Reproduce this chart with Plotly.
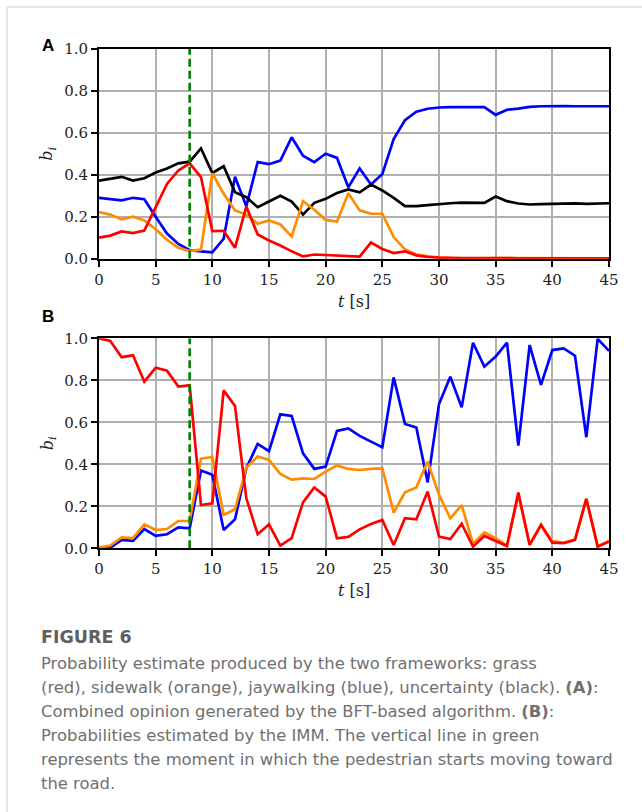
import plotly.graph_objects as go

W, H = 642, 812

t = list(range(46))

# Panel A: combined opinion (BFT)
a_blue = [0.29, 0.283, 0.278, 0.29, 0.283, 0.20, 0.12, 0.07, 0.04, 0.035, 0.03, 0.095, 0.39, 0.25, 0.46, 0.45,
          0.467, 0.578, 0.49, 0.46, 0.50, 0.48, 0.34, 0.43, 0.353, 0.403, 0.57, 0.66, 0.70, 0.714, 0.72, 0.722,
          0.723, 0.723, 0.722, 0.685, 0.709, 0.715, 0.723, 0.726, 0.728, 0.727, 0.726, 0.726, 0.726, 0.726]
a_black = [0.372, 0.381, 0.39, 0.372, 0.383, 0.41, 0.43, 0.454, 0.462, 0.525, 0.408, 0.44, 0.316, 0.293, 0.245, 0.272,
           0.30, 0.272, 0.21, 0.266, 0.285, 0.313, 0.33, 0.316, 0.353, 0.325, 0.29, 0.25, 0.25, 0.255, 0.261, 0.264,
           0.267, 0.267, 0.266, 0.296, 0.274, 0.263, 0.258, 0.26, 0.261, 0.264, 0.263, 0.261, 0.263, 0.264]
a_orange = [0.222, 0.21, 0.187, 0.20, 0.182, 0.14, 0.09, 0.052, 0.036, 0.043, 0.407, 0.309, 0.23, 0.21, 0.166, 0.182,
            0.163, 0.106, 0.274, 0.233, 0.185, 0.177, 0.312, 0.23, 0.214, 0.214, 0.103, 0.044, 0.02, 0.011, 0.005,
            0.003, 0.002, 0.002, 0.002, 0.003, 0.003, 0.004, 0.003, 0.002, 0.002, 0.002, 0.002, 0.002, 0.002, 0.002]
a_red = [0.10, 0.11, 0.13, 0.122, 0.134, 0.245, 0.356, 0.42, 0.454, 0.388, 0.131, 0.133, 0.052, 0.248, 0.115, 0.087,
         0.063, 0.035, 0.011, 0.02, 0.017, 0.016, 0.013, 0.01, 0.077, 0.046, 0.027, 0.035, 0.016, 0.008, 0.005,
         0.003, 0.003, 0.003, 0.003, 0.006, 0.003, 0.002, 0.002, 0.002, 0.002, 0.002, 0.002, 0.002, 0.002, 0.002]

# Panel B: IMM probabilities
b_blue = [0.0, 0.003, 0.04, 0.035, 0.092, 0.059, 0.067, 0.10, 0.095, 0.37, 0.35, 0.087, 0.138, 0.381, 0.497, 0.463,
          0.638, 0.63, 0.452, 0.378, 0.389, 0.559, 0.571, 0.535, 0.508, 0.481, 0.814, 0.592, 0.575, 0.314, 0.687,
          0.817, 0.671, 0.979, 0.865, 0.913, 0.979, 0.489, 0.968, 0.778, 0.944, 0.952, 0.917, 0.529, 0.997, 0.94]
b_orange = [0.003, 0.013, 0.052, 0.048, 0.114, 0.087, 0.092, 0.13, 0.13, 0.427, 0.435, 0.159, 0.186, 0.384, 0.437,
            0.421, 0.354, 0.327, 0.333, 0.33, 0.365, 0.395, 0.378, 0.373, 0.378, 0.381, 0.17, 0.267, 0.29, 0.413,
            0.254, 0.143, 0.206, 0.021, 0.076, 0.048, 0.013, 0.258, 0.018, 0.113, 0.034, 0.027, 0.042, 0.237, 0.01, 0.034]
b_red = [1.0, 0.987, 0.91, 0.919, 0.794, 0.86, 0.846, 0.77, 0.776, 0.206, 0.214, 0.752, 0.678, 0.238, 0.067, 0.114,
         0.013, 0.048, 0.219, 0.29, 0.246, 0.048, 0.054, 0.09, 0.116, 0.135, 0.016, 0.143, 0.138, 0.27, 0.056,
         0.044, 0.117, 0.008, 0.059, 0.035, 0.011, 0.265, 0.016, 0.111, 0.027, 0.024, 0.04, 0.235, 0.008, 0.032]

onset_time = 8
x_ticks = [0, 5, 10, 15, 20, 25, 30, 35, 40, 45]
y_ticks = [0.0, 0.2, 0.4, 0.6, 0.8, 1.0]

x_label = "<i>t</i> [s]"
y_label = "<i>b<sub>i</sub></i>"
panel_letters = ["A", "B"]

caption_title = "FIGURE 6"
caption_lines = [
    "Probability estimate produced by the two frameworks: grass",
    "(red), sidewalk (orange), jaywalking (blue), uncertainty (black). <b>(A)</b>:",
    "Combined opinion generated by the BFT-based algorithm. <b>(B)</b>:",
    "Probabilities estimated by the IMM. The vertical line in green",
    "represents the moment in which the pedestrian starts moving toward",
    "the road.",
]

BLUE, BLACK, ORANGE, RED, GREEN = "#0000ff", "#000000", "#ff8c00", "#ff0000", "#008000"
LW = 2.7
SERIF = "DejaVu Serif"


def px_x(p):
    return p / W


def px_y(p):
    return 1 - p / H


fig = go.Figure()

panels = [
    ("x", "y", [(a_blue, BLUE), (a_black, BLACK), (a_orange, ORANGE), (a_red, RED)]),
    ("x2", "y2", [(b_blue, BLUE), (b_orange, ORANGE), (b_red, RED)]),
]
for xa, ya, series in panels:
    for vals, col in series:
        fig.add_trace(go.Scatter(x=t, y=vals, mode="lines", line=dict(color=col, width=LW),
                                 xaxis=xa, yaxis=ya, showlegend=False, hoverinfo="skip"))
    fig.add_trace(go.Scatter(x=[onset_time, onset_time], y=[0, 1], mode="lines",
                             line=dict(color=GREEN, width=2.6, dash="8px,4px"),
                             xaxis=xa, yaxis=ya, showlegend=False, hoverinfo="skip"))

xdom = [px_x(99), px_x(609)]
tickfont = dict(family=SERIF, size=15, color="#222222")


def xaxis_cfg(anchor):
    return dict(range=[0, 45], tickvals=x_ticks, ticktext=[str(v) for v in x_ticks], showgrid=True,
                gridcolor="#b0b0b0", gridwidth=1.7, showline=True, linecolor="black", linewidth=2,
                mirror=True, ticks="outside", ticklen=6, tickwidth=2, tickcolor="black", zeroline=False,
                tickfont=tickfont, domain=xdom, automargin=False, anchor=anchor)


def yaxis_cfg(anchor, dom):
    return dict(range=[0, 1], tickvals=y_ticks, ticktext=["%.1f" % v for v in y_ticks], showgrid=True,
                gridcolor="#b0b0b0", gridwidth=1.7, showline=True, linecolor="black", linewidth=2,
                mirror=True, ticks="outside", ticklen=6, tickwidth=2, tickcolor="black", zeroline=False,
                tickfont=tickfont, automargin=False, anchor=anchor, domain=dom)


fig.update_layout(
    width=W, height=H, margin=dict(l=0, r=0, t=0, b=0, pad=0, autoexpand=False),
    paper_bgcolor="white", plot_bgcolor="white",
    xaxis=xaxis_cfg("y"),
    yaxis=yaxis_cfg("x", [px_y(258.7), px_y(48.7)]),
    xaxis2=xaxis_cfg("y2"),
    yaxis2=yaxis_cfg("x2", [px_y(548.3), px_y(338.3)]),
)

# axis titles
tf = dict(family=SERIF, size=16, color="#222222")
for yc_plot, xl_y in [(153.7, 301), (443.3, 590)]:
    fig.add_annotation(text=y_label, xref="paper", yref="paper", x=px_x(48), y=px_y(yc_plot),
                       xanchor="center", yanchor="middle", textangle=-90, showarrow=False, font=tf)
    fig.add_annotation(text=x_label, xref="paper", yref="paper", x=px_x(354), y=px_y(xl_y),
                       xanchor="center", yanchor="middle", showarrow=False, font=tf)

# frame lines
fig.add_shape(type="line", xref="paper", yref="paper", x0=px_x(7), x1=1, y0=px_y(7), y1=px_y(7),
              line=dict(color="#dcdcdc", width=1.5))
fig.add_shape(type="line", xref="paper", yref="paper", x0=px_x(7), x1=px_x(7), y0=0, y1=px_y(7),
              line=dict(color="#dcdcdc", width=1.5))

# panel letters
for letter, yc in zip(panel_letters, [46, 316]):
    fig.add_annotation(text="<b>%s</b>" % letter, xref="paper", yref="paper", x=px_x(48), y=px_y(yc),
                       xanchor="center", yanchor="middle", showarrow=False,
                       font=dict(family="Liberation Sans", size=17, color="black"))

capfont = dict(family="DejaVu Sans", size=16.4, color="#707070")
fig.add_annotation(text="<b>%s</b>" % caption_title, xref="paper", yref="paper", x=px_x(39), y=px_y(637),
                   xanchor="left", yanchor="middle", showarrow=False,
                   font=dict(family="DejaVu Sans", size=17.5, color="#5f5f5f"))
for i, line in enumerate(caption_lines):
    fig.add_annotation(text=line, xref="paper", yref="paper", x=px_x(39), y=px_y(663 + 24 * i),
                       xanchor="left", yanchor="middle", showarrow=False, font=capfont)

fig.write_html("out.html", config={"displayModeBar": False},
               post_script="document.body.style.margin='0px';document.body.style.padding='0px';")
